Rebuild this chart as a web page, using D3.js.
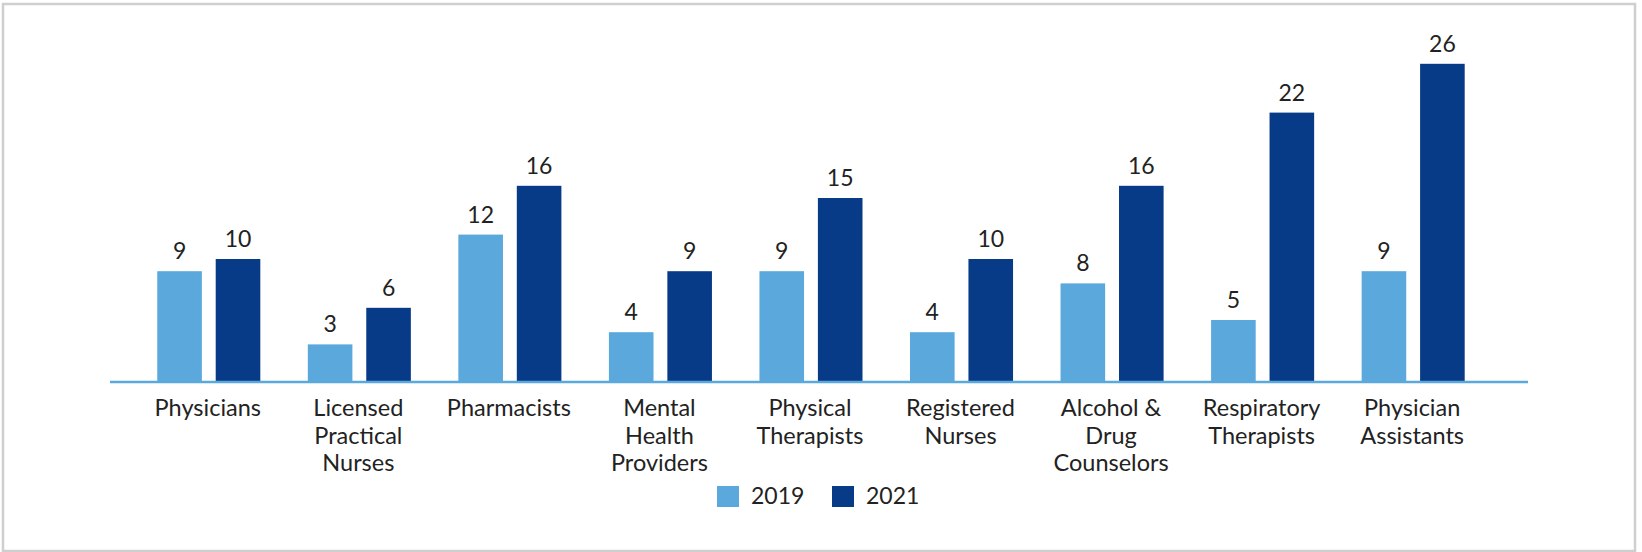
<!DOCTYPE html>
<html>
<head>
	<meta charset="utf-8">
	<title></title>
	<style>
		body { margin: 0; background: #fff; }
		text { font-family: Lato, "Open Sans", sans-serif; fill: #222; }
	</style>
</head>
<body>
	<svg id="container" width="1642" height="552"></svg>
</body>
<script src="https://d3js.org/d3.v7.min.js"></script>
<script>
	// data
	let categories = [
		["Physicians"],
		["Licensed", "Practical", "Nurses"],
		["Pharmacists"],
		["Mental", "Health", "Providers"],
		["Physical", "Therapists"],
		["Registered", "Nurses"],
		["Alcohol &", "Drug", "Counselors"],
		["Respiratory", "Therapists"],
		["Physician", "Assistants"]
	]
	let years = ["2019", "2021"]
	let values2019 = [9, 3, 12, 4, 9, 4, 8, 5, 9]
	let values2021 = [10, 6, 16, 9, 15, 10, 16, 22, 26]
	let colors = ["#5ba8dc", "#083b87"]

	let svg = d3.select("#container")

	// frame
	svg.append("rect")
		.attr("x", 3).attr("y", 4)
		.attr("width", 1632).attr("height", 547)
		.attr("fill", "none")
		.attr("stroke", "#cfcfcf")
		.attr("stroke-width", 2.5)

	let baseY = 381

	let x = d3.scaleBand()
		.domain(d3.range(categories.length))
		.range([133.5, 133.5 + 9 * 150.55])
		.paddingInner(0.3155)
		.paddingOuter(0.1578)

	let xInner = d3.scaleBand()
		.domain(years)
		.range([0, x.bandwidth()])
		.paddingInner(0.237)

	let y = d3.scaleLinear()
		.domain([0, 30])
		.range([baseY, baseY - 30 * 12.2])

	let rows = categories.map((c, i) => ({ i: i, vals: [values2019[i], values2021[i]] }))

	let group = svg.selectAll("g.grp")
		.data(rows)
		.enter()
		.append("g")
			.attr("class", "grp")
			.attr("transform", d => `translate(${x(d.i)},0)`)

	let bars = group.selectAll("g.bar")
		.data(d => d.vals.map((v, k) => ({ year: years[k], v: v, k: k })))
		.enter()
		.append("g")
			.attr("class", "bar")

	bars.append("rect")
		.attr("x", d => xInner(d.year))
		.attr("y", d => y(d.v))
		.attr("width", xInner.bandwidth())
		.attr("height", d => baseY - y(d.v))
		.attr("fill", d => colors[d.k])

	bars.append("text")
		.attr("x", d => xInner(d.year) + xInner.bandwidth() / 2)
		.attr("y", d => y(d.v) - 12)
		.attr("text-anchor", "middle")
		.style("font-size", "23px")
		.text(d => d.v)

	// baseline
	svg.append("line")
		.attr("x1", 110).attr("x2", 1528)
		.attr("y1", baseY + 1).attr("y2", baseY + 1)
		.attr("stroke", colors[0])
		.attr("stroke-width", 2.5)

	// category labels, multi-line
	let lab = svg.selectAll("text.cat")
		.data(categories)
		.enter()
		.append("text")
			.attr("class", "cat")
			.attr("text-anchor", "middle")
			.style("font-size", "23.5px")
			.attr("transform", (d, i) => `translate(${x(i) + x.bandwidth() / 2 - 1},0)`)

	lab.selectAll("tspan")
		.data(d => d)
		.enter()
		.append("tspan")
			.attr("x", 0)
			.attr("y", (d, j) => 416 + j * 27.5)
			.text(d => d)

	// legend
	let legend = svg.append("g").attr("transform", "translate(717,486)")
	let item = legend.selectAll("g")
		.data(years)
		.enter()
		.append("g")
			.attr("transform", (d, k) => `translate(${k * 115},0)`)

	item.append("rect")
		.attr("width", 22).attr("height", 21)
		.attr("fill", (d, k) => colors[k])

	item.append("text")
		.attr("x", 34).attr("y", 18)
		.style("font-size", "23px")
		.text(d => d)
</script>
</html>
